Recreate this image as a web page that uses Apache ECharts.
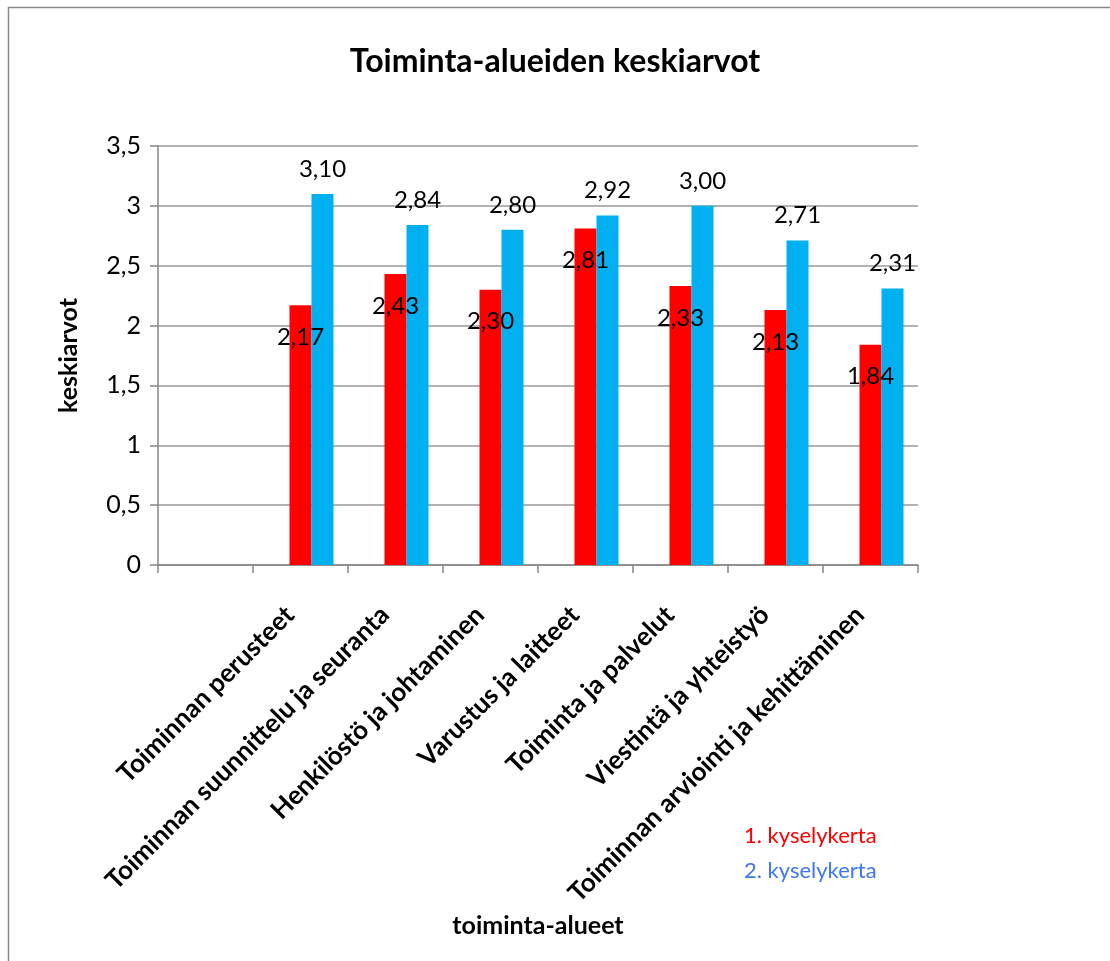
<!DOCTYPE html>
<html>
<head>
<meta charset="utf-8">
<script src="https://cdn.jsdelivr.net/npm/echarts@6/dist/echarts.min.js"></script>
<style>
  html, body { margin: 0; padding: 0; background: #fff; }
  #chart { width: 1110px; height: 961px; }
</style>
</head>
<body>
<div id="chart"></div>
<script>
// Category slots: the first one is an unused, unlabelled slot
const categories = [
  '',
  'Toiminnan perusteet',
  'Toiminnan suunnittelu ja seuranta',
  'Henkilöstö ja johtaminen',
  'Varustus ja laitteet',
  'Toiminta ja palvelut',
  'Viestintä ja yhteistyö',
  'Toiminnan arviointi ja kehittäminen'
];
const round1 = [null, 2.17, 2.43, 2.30, 2.81, 2.33, 2.13, 1.84];
const round2 = [null, 3.10, 2.84, 2.80, 2.92, 3.00, 2.71, 2.31];
// Empty series that keeps its slot in every bar group
const emptySeries = [null, null, null, null, null, null, null, null];
const seriesNames = ['1. kyselykerta', '2. kyselykerta'];
const yTicks = { min: 0, max: 3.5, interval: 0.5 };

const FONT = 'Lato, "Open Sans", sans-serif';
const fmt = v => v.toFixed(2).replace('.', ',');

const chart = echarts.init(document.getElementById('chart'), null, { renderer: 'canvas' });

chart.setOption({
  backgroundColor: '#ffffff',
  animation: false,
  textStyle: { fontFamily: FONT },
  title: {
    text: 'Toiminta-alueiden keskiarvot',
    left: 'center',
    top: 41,
    textStyle: { fontFamily: FONT, fontWeight: 'bold', fontSize: 32, color: '#000' }
  },
  graphic: [{
    type: 'rect',
    shape: { x: 8.5, y: 7.5, width: 1300, height: 1100 },
    style: { fill: null, stroke: '#8a8a8a', lineWidth: 1.5 },
    silent: true
  }],
  legend: {
    orient: 'vertical',
    left: 734,
    top: 820,
    itemWidth: 0,
    itemHeight: 0,
    itemGap: 13,
    selectedMode: false,
    data: [
      { name: seriesNames[0], icon: 'rect', textStyle: { color: '#ff0000' } },
      { name: seriesNames[1], icon: 'rect', textStyle: { color: '#3f76f2' } }
    ],
    textStyle: { fontFamily: FONT, fontSize: 22 }
  },
  grid: { left: 158, right: 192, top: 146, bottom: 396, containLabel: false },
  xAxis: {
    type: 'category',
    data: categories,
    name: 'toiminta-alueet',
    nameLocation: 'middle',
    nameGap: 348,
    nameTextStyle: { fontFamily: FONT, fontWeight: 'bold', fontSize: 25, color: '#000' },
    axisLine: { lineStyle: { color: '#868686', width: 1.5 } },
    axisTick: { show: true, interval: 0, length: 8, lineStyle: { color: '#868686', width: 1.5 } },
    axisLabel: {
      interval: 0,
      rotate: 45,
      margin: 35,
      padding: [0, 15, 0, 0],
      hideOverlap: false,
      color: '#000',
      fontFamily: FONT,
      fontWeight: 'bold',
      fontSize: 26
    },
    splitLine: { show: false }
  },
  yAxis: {
    type: 'value',
    min: yTicks.min,
    max: yTicks.max,
    interval: yTicks.interval,
    name: 'keskiarvot',
    nameLocation: 'middle',
    nameGap: 77,
    nameTextStyle: { fontFamily: FONT, fontWeight: 'bold', fontSize: 25, color: '#000' },
    axisLine: { show: true, lineStyle: { color: '#868686', width: 1.5 } },
    axisTick: { show: true, length: 8, lineStyle: { color: '#868686', width: 1.5 } },
    axisLabel: {
      margin: 17,
      color: '#000',
      fontFamily: FONT,
      fontSize: 25,
      formatter: v => String(v).replace('.', ',')
    },
    splitLine: { show: true, lineStyle: { color: '#9a9a9a', width: 1.5 } }
  },
  series: [
    {
      name: '',
      type: 'bar',
      data: emptySeries,
      barWidth: 22,
      barGap: '0%'
    },
    {
      name: seriesNames[0],
      type: 'bar',
      data: round1,
      barWidth: 22,
      barGap: '0%',
      itemStyle: { color: '#ff0000' },
      label: {
        show: true,
        position: 'insideTop',
        distance: 20,
        color: '#000',
        fontFamily: FONT,
        fontSize: 24,
        formatter: p => fmt(p.value)
      },
      z: 2
    },
    {
      name: seriesNames[1],
      type: 'bar',
      data: round2,
      barWidth: 22,
      barGap: '0%',
      itemStyle: { color: '#00b0f0' },
      label: {
        show: true,
        position: 'top',
        distance: 13,
        color: '#000',
        fontFamily: FONT,
        fontSize: 24,
        formatter: p => fmt(p.value)
      },
      z: 2
    }
  ]
});
</script>
</body>
</html>
